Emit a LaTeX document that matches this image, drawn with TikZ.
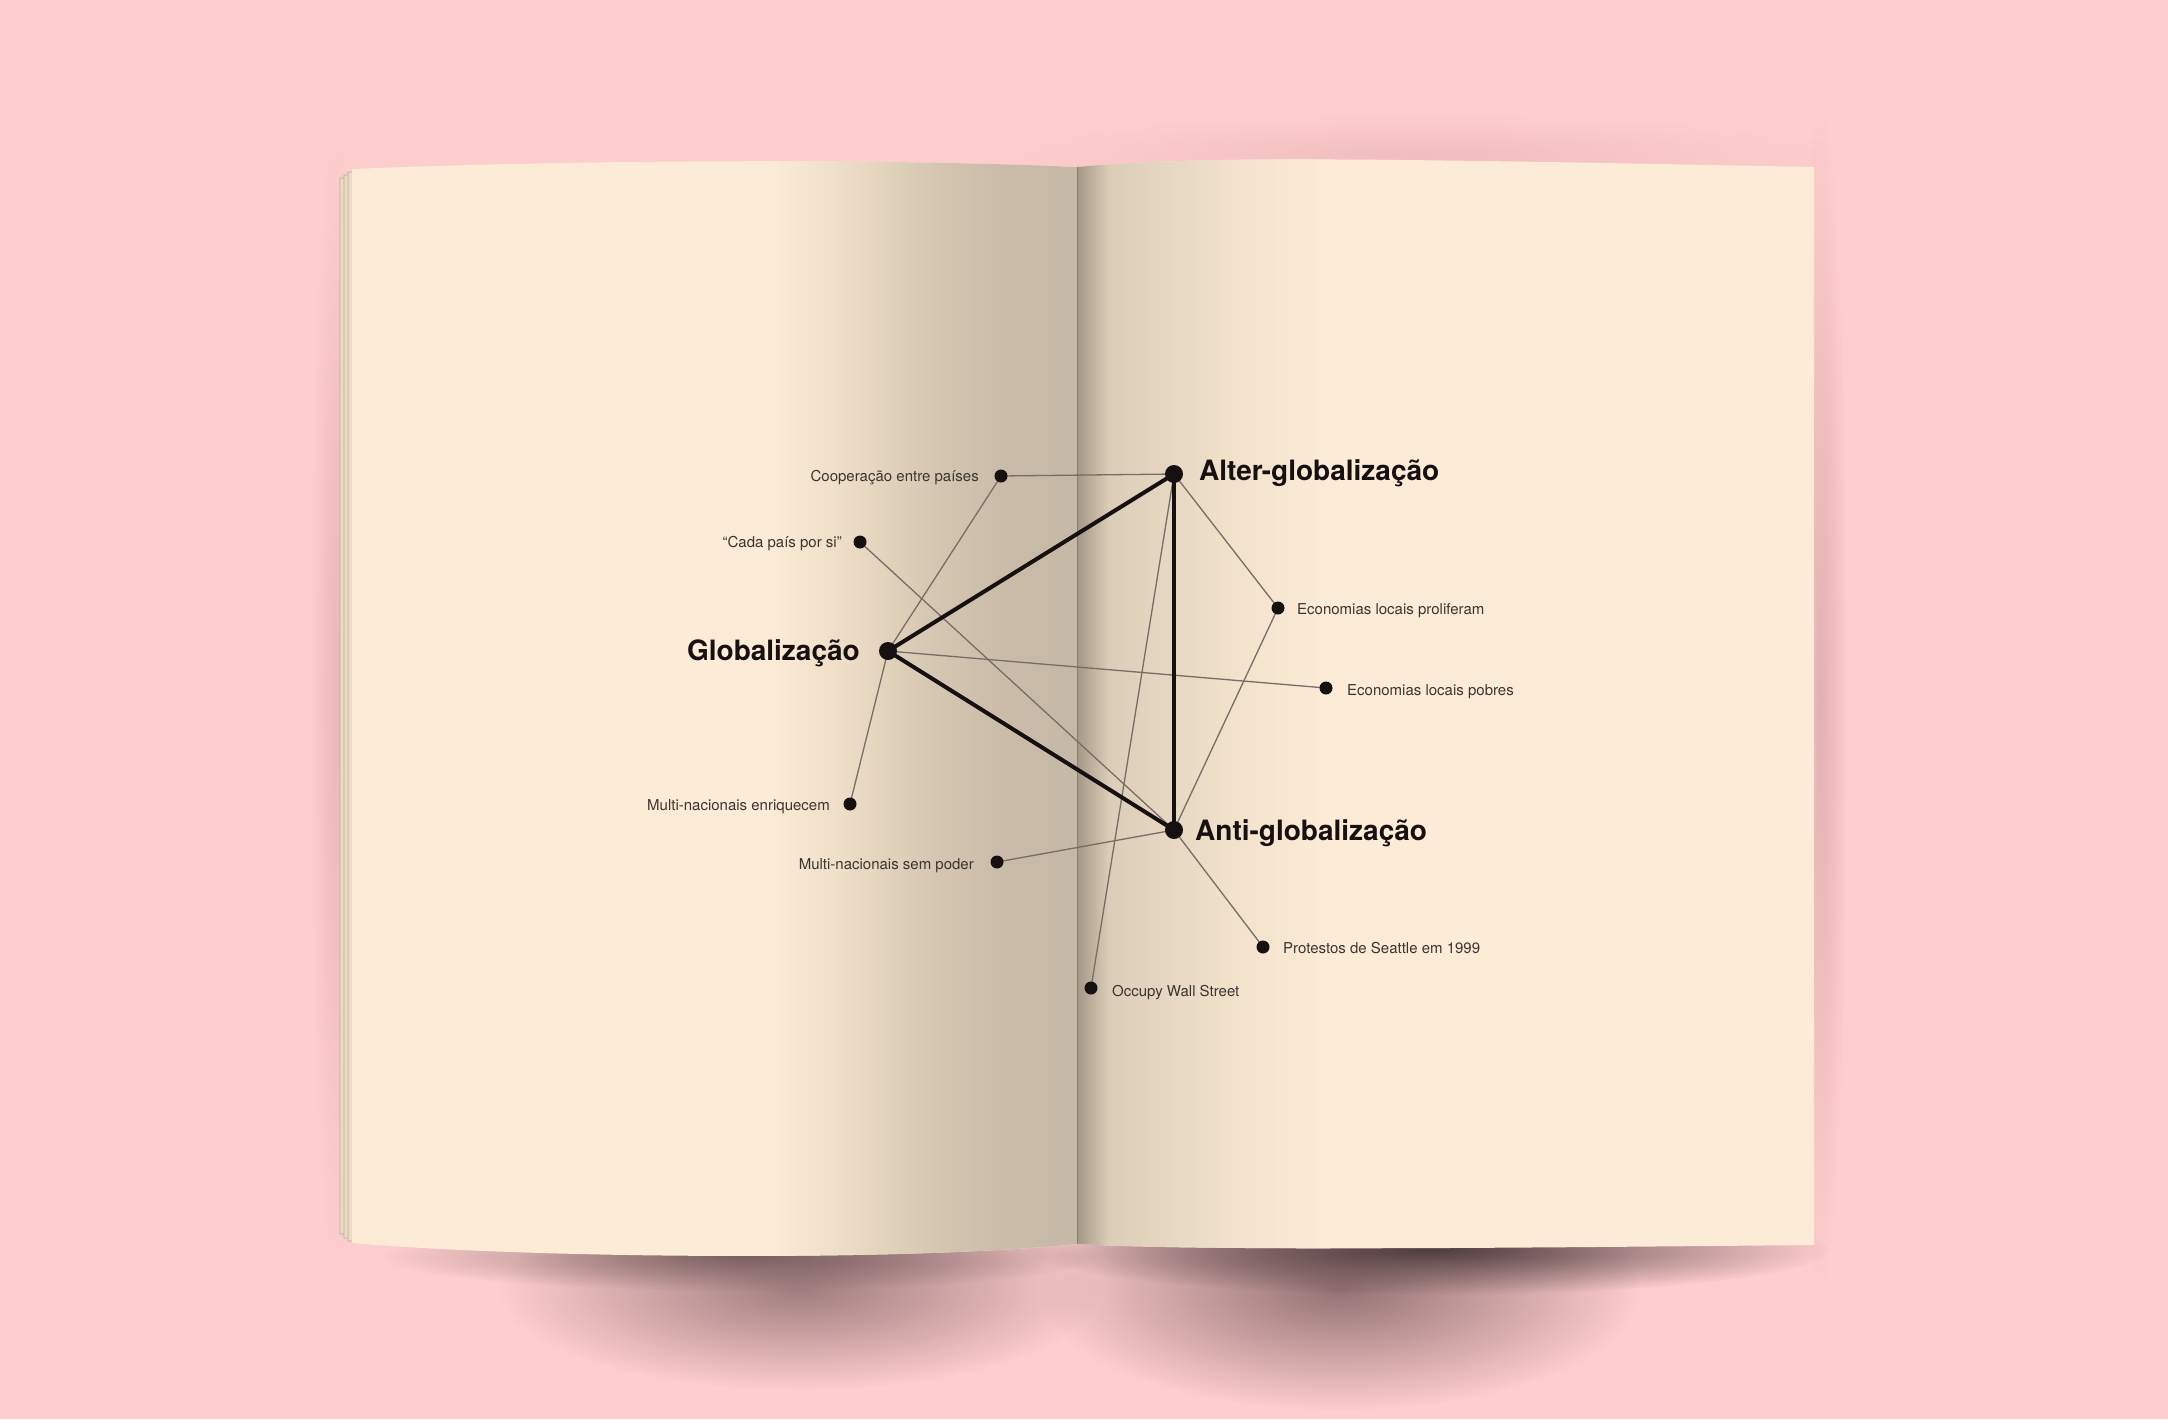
\documentclass[tikz,border=0pt]{standalone}
\usepackage{fontspec}
\setmainfont{TeX Gyre Heros}
\usetikzlibrary{fadings}
\definecolor{bg}{HTML}{FECDCD}
\definecolor{cream}{HTML}{FCEBD6}
\definecolor{creamA}{HTML}{ECDCC5}
\definecolor{creamB}{HTML}{D6C7B2}
\definecolor{creamC}{HTML}{CABCA9}
\definecolor{creamD}{HTML}{C6B8A6}
\definecolor{rgA}{HTML}{A39786}
\definecolor{rgB}{HTML}{DCCDB8}
\definecolor{rgC}{HTML}{F3E3CD}
\definecolor{stack}{HTML}{EADBC5}
\definecolor{stackedge}{HTML}{B9AB98}
\definecolor{gutter}{HTML}{8A7F72}
\definecolor{ink}{HTML}{161010}
\definecolor{linegray}{HTML}{756D66}
\definecolor{labgray}{HTML}{3B3531}
\definecolor{shdark}{HTML}{4A383A}
\definecolor{shmid}{HTML}{7A5C5E}
\definecolor{shpink}{HTML}{D9A3A7}
\tikzfading[name=fuzzy, inner color=transparent!0, outer color=transparent!100]
\pgfdeclarelayer{bottom}
\pgfdeclarelayer{edges}
\pgfsetlayers{bottom,edges,main}
\tikzset{
  hub/.style={circle, fill=ink, inner sep=0, minimum size=18},
  leaf/.style={circle, fill=ink, inner sep=0, minimum size=13},
  thinlink/.style={draw=linegray, line width=1.3},
  thicklink/.style={draw=ink, line width=4},
  lab/.style={inner sep=0, text=labgray, font=\fontsize{15}{18}\selectfont},
  hublab/.style={inner sep=0, text=ink, font=\fontsize{28}{32}\selectfont\bfseries},
  soft/.style={path fading=fuzzy}
}
\begin{document}
\begin{tikzpicture}[x=1pt,y=-1pt]
\useasboundingbox (0,0) rectangle (2168,1419);
\begin{pgfonlayer}{bottom}
\fill[bg] (0,0) rectangle (2168,1419);
% soft shadows around the book
\fill[shpink, soft, opacity=0.35] (1420,155) ellipse [x radius=430, y radius=40];
\fill[shpink, soft, opacity=0.7] (1820,700) ellipse [x radius=28, y radius=600];
\fill[shpink, soft, opacity=0.5] (336,700) ellipse [x radius=26, y radius=590];
\fill[shmid, soft, opacity=0.7] (800,1290) ellipse [x radius=300, y radius=100];
\fill[shmid, soft, opacity=0.8] (1340,1290) ellipse [x radius=300, y radius=120];
\fill[shdark, soft, opacity=0.95] (1430,1250) ellipse [x radius=400, y radius=45];
\fill[shdark, soft, opacity=0.6] (740,1256) ellipse [x radius=360, y radius=35];
% page stack on the left
\filldraw[fill=stack, draw=stackedge, line width=0.8] (340,178) -- (1077,172) -- (1077,1240) -- (340,1234) -- cycle;
\filldraw[fill=stack, draw=stackedge, line width=0.8] (344,175) -- (1077,170) -- (1077,1242) -- (344,1238) -- cycle;
\filldraw[fill=stack, draw=stackedge, line width=0.8] (348,172) -- (1077,168) -- (1077,1243) -- (348,1241) -- cycle;
% left page
\begin{scope}
\clip (352,169) .. controls (600,159) and (900,159) .. (1077,167) -- (1077,1244)
      .. controls (900,1262) and (520,1258) .. (352,1243) -- cycle;
\fill[cream] (340,150) rectangle (1080,1270);
\shade[left color=cream, right color=creamA] (770,150) rectangle (851,1270);
\shade[left color=creamA, right color=creamB] (850,150) rectangle (931,1270);
\shade[left color=creamB, right color=creamC] (930,150) rectangle (1001,1270);
\shade[left color=creamC, right color=creamD] (1000,150) rectangle (1080,1270);
\end{scope}
% right page
\begin{scope}
\clip (1077,167) .. controls (1200,155) and (1400,159) .. (1814,167) -- (1814,1245)
      .. controls (1500,1248) and (1200,1251) .. (1077,1244) -- cycle;
\fill[cream] (1070,150) rectangle (1820,1270);
\shade[left color=rgA, right color=rgB] (1077,150) rectangle (1109,1270);
\shade[left color=rgB, right color=rgC] (1108,150) rectangle (1241,1270);
\shade[left color=rgC, right color=cream] (1240,150) rectangle (1330,1270);
\end{scope}
\draw[gutter, line width=1.6] (1077.5,167) -- (1077.5,1244);
\end{pgfonlayer}

% dots
\node[hub] (glob) at (888,651) {};
\node[hub] (alter) at (1174,474) {};
\node[hub] (anti) at (1174,830) {};
\node[leaf] (coop) at (1001,476) {};
\node[leaf] (cada) at (860,542) {};
\node[leaf] (multie) at (850,804) {};
\node[leaf] (multis) at (997,862) {};
\node[leaf] (occ) at (1091,988) {};
\node[leaf] (prot) at (1263,947) {};
\node[leaf] (prol) at (1278,608) {};
\node[leaf] (pobres) at (1326,688) {};

% labels
\node[hublab, anchor=base east] (tglob) at (860,660) {Globalização};
\node[hublab, anchor=base west] (talter) at (1199,480) {Alter-globalização};
\node[hublab, anchor=base west] (tanti) at (1195,840) {Anti-globalização};
\node[lab, anchor=base east] (tcoop) at (979,481) {Cooperação entre países};
\node[lab, anchor=base east] (tcada) at (842,547) {“Cada país por si”};
\node[lab, anchor=base east] (tmultie) at (830,810) {Multi-nacionais enriquecem};
\node[lab, anchor=base east] (tmultis) at (974,869) {Multi-nacionais sem poder};
\node[lab, anchor=base west] (tocc) at (1112,996) {Occupy Wall Street};
\node[lab, anchor=base west] (tprot) at (1283,953) {Protestos de Seattle em 1999};
\node[lab, anchor=base west] (tprol) at (1297,614) {Economias locais proliferam};
\node[lab, anchor=base west] (tpobres) at (1347,695) {Economias locais pobres};

% connectors
\begin{pgfonlayer}{edges}
\draw[thinlink] (coop.center) -- (alter.center);
\draw[thinlink] (coop.center) -- (glob.center);
\draw[thinlink] (glob.center) -- (multie.center);
\draw[thinlink] (cada.center) -- (anti.center);
\draw[thinlink] (glob.center) -- (pobres.center);
\draw[thinlink] (alter.center) -- (prol.center);
\draw[thinlink] (prol.center) -- (anti.center);
\draw[thinlink] (alter.center) -- (occ.center);
\draw[thinlink] (anti.center) -- (multis.center);
\draw[thinlink] (anti.center) -- (prot.center);
\draw[thicklink] (glob.center) -- (alter.center);
\draw[thicklink] (glob.center) -- (anti.center);
\draw[thicklink] (alter.center) -- (anti.center);
\end{pgfonlayer}
\end{tikzpicture}
\end{document}
